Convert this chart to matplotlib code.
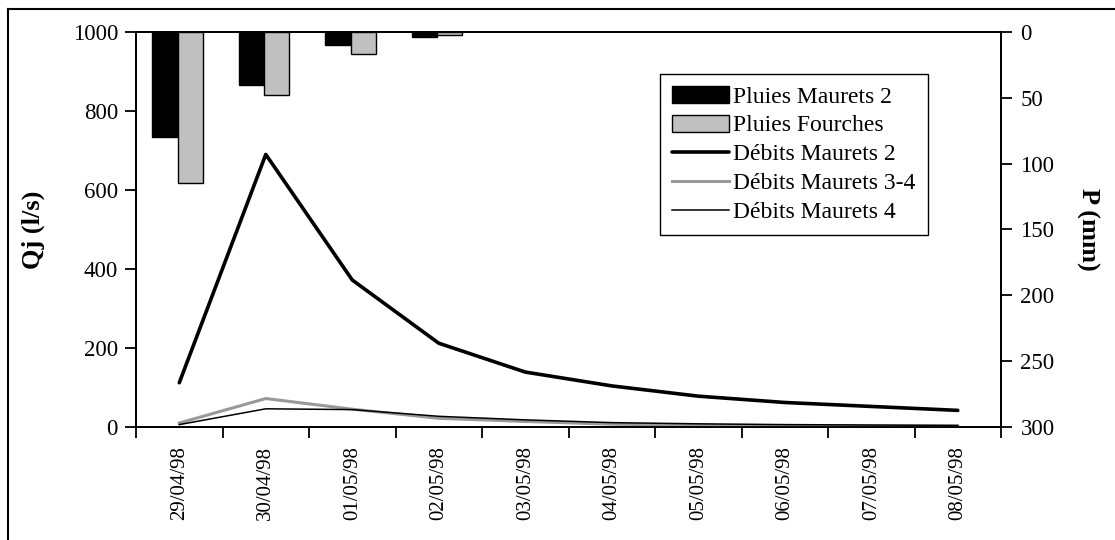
import matplotlib
matplotlib.use("Agg")
import matplotlib.pyplot as plt
import numpy as np
from matplotlib.lines import Line2D

plt.rcParams['font.family'] = ['Liberation Serif', 'DejaVu Serif']

# Data
dates = ['29/04/98', '30/04/98', '01/05/98', '02/05/98', '03/05/98',
         '04/05/98', '05/05/98', '06/05/98', '07/05/98', '08/05/98']
pluies_maurets2 = [80, 40, 10, 3.5, 0, 0, 0, 0, 0, 0]
pluies_fourches = [115, 48, 17, 2, 0, 0, 0, 0, 0, 0]
debits_maurets2 = [112, 690, 372, 212, 139, 104, 78, 62, 52, 42]
debits_maurets34 = [10, 72, 45, 22, 14, 7, 4, 3, 2, 2]
debits_maurets4 = [6, 46, 44, 27, 18, 11, 8, 6, 5, 4]

x = np.arange(len(dates))

fig = plt.figure(figsize=(11.15, 5.4), dpi=100)
ax = fig.add_axes([0.122, 0.2093, 0.7758, 0.7315])
ax2 = ax.twinx()
ax.set_zorder(ax2.get_zorder() + 1)
ax.patch.set_visible(False)

# Rain bars on the inverted right axis (no outline on empty days)
lw1 = [1 if v > 0 else 0 for v in pluies_maurets2]
lw2 = [1 if v > 0 else 0 for v in pluies_fourches]
b1 = ax2.bar(x - 0.31, pluies_maurets2, width=0.29, align='edge',
             color='black', edgecolor='black', linewidth=lw1)
b2 = ax2.bar(x - 0.02, pluies_fourches, width=0.29, align='edge',
             color='#c0c0c0', edgecolor='black', linewidth=lw2)
ax2.set_ylim(300, 0)
ax2.set_yticks(np.arange(0, 301, 50))
ax2.set_ylabel('P (mm)', fontsize=19, fontweight='bold', rotation=270, labelpad=32)

# Discharge lines on the left axis
l1, = ax.plot(x, debits_maurets2, color='black', lw=2.6, solid_capstyle='round')
l2, = ax.plot(x, debits_maurets34, color='#999999', lw=2.2)
l3, = ax.plot(x, debits_maurets4, color='black', lw=1.1)
ax.set_ylim(0, 1000)
ax.set_yticks(np.arange(0, 1001, 200))
ax.set_ylabel('Qj (l/s)', fontsize=19, fontweight='bold', labelpad=20)

ax.set_xlim(-0.5, len(dates) - 0.5)
ax.set_xticks(np.arange(-0.5, len(dates), 1.0))
ax.set_xticklabels([])
ax.set_xticks(x, minor=True)
ax.set_xticklabels(dates, minor=True, rotation=90, fontsize=15)
ax.tick_params(axis='x', which='minor', length=0, pad=14)
ax.tick_params(axis='x', which='major', length=8, width=1.3, direction='out')
ax.tick_params(axis='y', length=8, width=1.3, labelsize=16.5, pad=5)
ax2.tick_params(axis='y', length=8, width=1.3, labelsize=16.5, pad=6)

for a in (ax, ax2):
    for s in a.spines.values():
        s.set_linewidth(1.3)
        s.set_color('black')

leg = ax.legend([b1, b2, l1, l2, l3],
                ['Pluies Maurets 2', 'Pluies Fourches', 'Débits Maurets 2',
                 'Débits Maurets 3-4', 'Débits Maurets 4'],
                loc='upper left', bbox_to_anchor=(0.606, 0.894),
                fontsize=17, fancybox=False, framealpha=1, edgecolor='black',
                handlelength=2.4, handleheight=0.75, handletextpad=0.2,
                labelspacing=0.3, borderpad=0.5, borderaxespad=0)
leg.get_frame().set_linewidth(1)

# outer chart frame
fig.add_artist(Line2D([8 / 1115, 1.0], [1 - 9 / 540, 1 - 9 / 540],
                      transform=fig.transFigure, color='black', lw=1.5))
fig.add_artist(Line2D([8 / 1115, 8 / 1115], [0.0, 1 - 9 / 540],
                      transform=fig.transFigure, color='black', lw=1.5))

fig.savefig('out.png', dpi=100)
